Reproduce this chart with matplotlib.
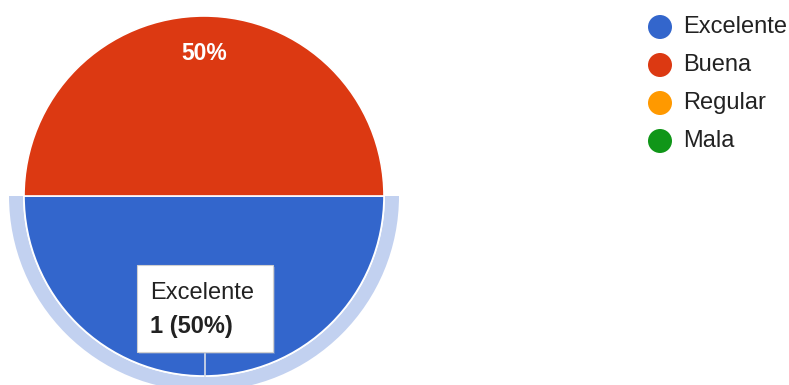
import matplotlib.pyplot as plt
from matplotlib.patches import Wedge, Rectangle

plt.rcParams['font.family'] = ['Liberation Sans', 'DejaVu Sans']

categories = ['Excelente', 'Buena', 'Regular', 'Mala']
counts = [1, 1, 0, 0]
colors = ['#3366cc', '#dc3912', '#ff9900', '#109618']

W, H = 789, 385
cx, cy, r = 204, H - 196, 180

fig = plt.figure(figsize=(W / 100, H / 100), dpi=100)
ax = fig.add_axes([0, 0, 1, 1])

total = sum(counts)
shown = [(c, n, col) for c, n, col in zip(categories, counts, colors) if n > 0]

wedges, _ = ax.pie([s[1] for s in shown], colors=[s[2] for s in shown],
                   center=(cx, cy), radius=r, startangle=180, counterclock=True,
                   wedgeprops=dict(edgecolor='white', linewidth=1.2))
for w in wedges:
    w.set_zorder(2)

# pie() resets the view, so fix limits afterwards
ax.set_xlim(0, W)
ax.set_ylim(0, H)
ax.set_aspect('equal')
ax.axis('off')

# highlight ring around the hovered slice (first one)
first_span = 360 * shown[0][1] / total
ax.add_patch(Wedge((cx, cy), r + 15, 180, 180 + first_span, width=14,
                   facecolor='#c2d1f0', edgecolor='none', zorder=1))

# percent label on the top slice
pct = 100 * shown[1][1] / total
ax.text(cx, H - 53, f'{pct:.0f}%', color='white', fontsize=16.5,
        fontweight='bold', ha='center', va='center', zorder=3)

# tooltip for the hovered slice
ax.plot([205, 205], [H - 352, H - 376], color='#d8dde8', lw=1.2, zorder=3)
ax.add_patch(Rectangle((139, H - 354), 136, 87, facecolor='#9aa8c8',
                       edgecolor='none', alpha=0.4, zorder=3))
ax.add_patch(Rectangle((137, H - 352), 136, 87, facecolor='white',
                       edgecolor='#d0d0d0', linewidth=0.8, zorder=4))
pct0 = 100 * shown[0][1] / total
ax.text(150, H - 293, shown[0][0], fontsize=17, color='#222222',
        ha='left', va='center', zorder=5)
ax.text(150, H - 326, f'{shown[0][1]} ({pct0:.0f}%)', fontsize=17,
        fontweight='bold', color='#222222', ha='left', va='center', zorder=5)

# legend
for i, (cat, col) in enumerate(zip(categories, colors)):
    y = H - (27 + 38 * i)
    ax.add_patch(plt.Circle((660, y), 12, facecolor=col, edgecolor='none'))
    ax.text(683, y, cat, fontsize=17, color='#222222', ha='left', va='center')

fig.savefig('out.png', dpi=100)
